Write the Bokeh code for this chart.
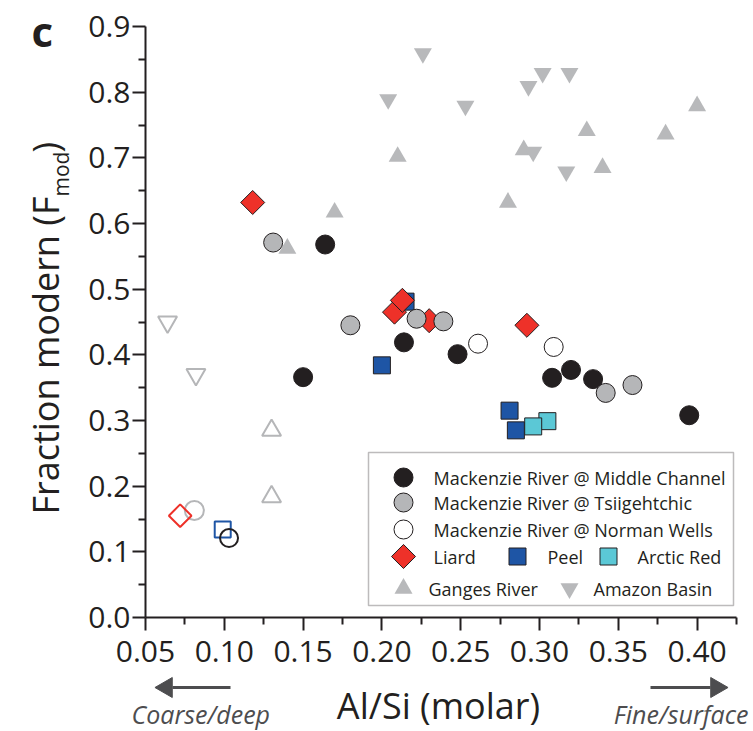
import numpy as np
from bokeh.plotting import figure
from bokeh.models import Range1d, FixedTicker, Label, BoxAnnotation, LinearAxis
from bokeh.embed import file_html
from bokeh.resources import INLINE

# ---------------- data ----------------
mid_x = [0.164, 0.150, 0.214, 0.248, 0.308, 0.320, 0.334, 0.395]
mid_y = [0.568, 0.366, 0.419, 0.401, 0.365, 0.377, 0.363, 0.308]
mid_open_x = [0.103]
mid_open_y = [0.121]

tsi_x = [0.131, 0.180, 0.222, 0.239, 0.342, 0.359]
tsi_y = [0.571, 0.445, 0.455, 0.451, 0.342, 0.354]
tsi_open_x = [0.081]
tsi_open_y = [0.163]

nw_x = [0.261, 0.309]
nw_y = [0.417, 0.412]

liard_x = [0.118, 0.208, 0.213, 0.230, 0.292]
liard_y = [0.632, 0.465, 0.483, 0.452, 0.445]
liard_open_x = [0.072]
liard_open_y = [0.155]

peel_x = [0.200, 0.215, 0.281, 0.285]
peel_y = [0.384, 0.481, 0.315, 0.285]
peel_open_x = [0.099]
peel_open_y = [0.134]

arctic_x = [0.305, 0.296]
arctic_y = [0.299, 0.291]

ganges_x = [0.140, 0.170, 0.210, 0.280, 0.290, 0.330, 0.340, 0.380, 0.400]
ganges_y = [0.562, 0.617, 0.702, 0.632, 0.712, 0.741, 0.685, 0.736, 0.779]
ganges_open_x = [0.130, 0.130]
ganges_open_y = [0.285, 0.184]

amazon_x = [0.204, 0.226, 0.253, 0.293, 0.296, 0.302, 0.317, 0.319]
amazon_y = [0.789, 0.859, 0.779, 0.809, 0.709, 0.829, 0.679, 0.829]
amazon_open_x = [0.064, 0.082]
amazon_open_y = [0.450, 0.370]

x_ticks = [0.05, 0.10, 0.15, 0.20, 0.25, 0.30, 0.35, 0.40]
x_tick_labels = ["0.05", "0.10", "0.15", "0.20", "0.25", "0.30", "0.35", "0.40"]
y_ticks = [0.0, 0.1, 0.2, 0.3, 0.4, 0.5, 0.6, 0.7, 0.8, 0.9]
y_tick_labels = ["0.0", "0.1", "0.2", "0.3", "0.4", "0.5", "0.6", "0.7", "0.8", "0.9"]

legend_labels = ["Mackenzie River @ Middle Channel", "Mackenzie River @ Tsiigehtchic",
                 "Mackenzie River @ Norman Wells", "Liard", "Peel", "Arctic Red",
                 "Ganges River", "Amazon Basin"]

# ---------------- styles ----------------
BLACK = "#231f20"
GREY = "#b5b6b8"
TRI = "#b8b9bb"
RED = "#ee3129"
BLUE = "#1e55a5"
CYAN = "#5bc8d6"
ARROW = "#4d4d4f"
FONT = "Open Sans"

# canvas = page (Bokeh's template has no body margin); the frame fills the canvas
W, H = 753, 731
AX_L, AX_R, AX_T, AX_B = 145, 736, 26, 617          # where the axes sit (px)
X0, X1, Y0, Y1 = 0.05, 0.425, 0.0, 0.9              # axis extents (data)
SX = (AX_R - AX_L) / (X1 - X0)
SY = (AX_B - AX_T) / (Y1 - Y0)


def dx(cx):
    return X0 + (cx - AX_L) / SX


def dy(cy):
    return Y0 + (AX_B - cy) / SY


p = figure(width=W, height=H, output_backend="svg", toolbar_location=None,
           title=None, x_axis_type=None, y_axis_type=None,
           x_range=Range1d(dx(0), dx(W)), y_range=Range1d(dy(H), dy(0)))
p.min_border = 0
p.outline_line_color = None
p.background_fill_color = "white"
p.border_fill_color = "white"

xaxis = LinearAxis(fixed_location=Y0, bounds=(X0, X1),
                   ticker=FixedTicker(ticks=x_ticks,
                                      minor_ticks=list(np.round(np.arange(0.075, 0.43, 0.05), 3))),
                   major_label_overrides={t: l for t, l in zip(x_ticks, x_tick_labels)},
                   major_label_standoff=10)
yaxis = LinearAxis(fixed_location=X0, bounds=(Y0, Y1),
                   ticker=FixedTicker(ticks=y_ticks,
                                      minor_ticks=list(np.round(np.arange(0.05, 0.9, 0.1), 3))),
                   major_label_overrides={t: l for t, l in zip(y_ticks, y_tick_labels)},
                   major_label_standoff=2)
for ax in (xaxis, yaxis):
    ax.axis_line_width = 2
    ax.axis_line_color = BLACK
    ax.major_tick_line_width = 2
    ax.minor_tick_line_width = 2
    ax.major_tick_line_color = BLACK
    ax.minor_tick_line_color = BLACK
    ax.major_tick_out = 13
    ax.major_tick_in = 0
    ax.minor_tick_out = 7
    ax.minor_tick_in = 0
    ax.major_label_text_font = FONT
    ax.major_label_text_font_size = "30px"
    ax.major_label_text_color = BLACK
p.add_layout(xaxis, "below")
p.add_layout(yaxis, "left")

# ---------------- data markers ----------------
D = np.pi / 4
# open (unfilled) markers
p.scatter(amazon_open_x, amazon_open_y, marker="inverted_triangle", size=19,
          fill_color=None, line_color=GREY, line_width=2)
p.scatter(ganges_open_x, ganges_open_y, marker="triangle", size=19,
          fill_color=None, line_color=GREY, line_width=2)
p.scatter(tsi_open_x, tsi_open_y, marker="circle", size=19,
          fill_color=None, line_color=GREY, line_width=2)
p.scatter(liard_open_x, liard_open_y, marker="square", angle=D, size=16,
          fill_color=None, line_color=RED, line_width=2)
p.scatter(peel_open_x, peel_open_y, marker="square", size=16,
          fill_color=None, line_color=BLUE, line_width=2)
p.scatter(mid_open_x, mid_open_y, marker="circle", size=18,
          fill_color=None, line_color=BLACK, line_width=2)

# filled markers
p.scatter(ganges_x, ganges_y, marker="triangle", size=18, fill_color=TRI, line_color=None)
p.scatter(amazon_x, amazon_y, marker="inverted_triangle", size=18, fill_color=TRI, line_color=None)
p.scatter(peel_x, peel_y, marker="square", size=17, fill_color=BLUE, line_color=BLACK, line_width=1)
p.scatter(arctic_x, arctic_y, marker="square", size=17, fill_color=CYAN, line_color=BLACK, line_width=1)
p.scatter(liard_x, liard_y, marker="square", angle=D, size=17, fill_color=RED,
          line_color=BLACK, line_width=1)
p.scatter(mid_x, mid_y, marker="circle", size=19, fill_color=BLACK, line_color=BLACK)
p.scatter(tsi_x, tsi_y, marker="circle", size=19, fill_color=GREY, line_color=BLACK, line_width=1)
p.scatter(nw_x, nw_y, marker="circle", size=19, fill_color="white", line_color=BLACK, line_width=1)

# ---------------- legend (drawn by hand) ----------------
p.add_layout(BoxAnnotation(left=dx(368), right=dx(733), top=dy(452), bottom=dy(605),
                           fill_color=None, line_color=BLACK, line_width=1.5))
rows = [477, 502, 529, 556, 588]
leg_items = [
    # (marker, fill, line, angle, size, marker_x, row, text_x, label)
    ("circle", BLACK, BLACK, 0, 19, 403, 0, 433, legend_labels[0]),
    ("circle", GREY, BLACK, 0, 19, 403, 1, 433, legend_labels[1]),
    ("circle", "white", BLACK, 0, 19, 403, 2, 433, legend_labels[2]),
    ("square", RED, BLACK, D, 17, 403, 3, 433, legend_labels[3]),
    ("square", BLUE, BLACK, 0, 17, 517, 3, 547, legend_labels[4]),
    ("square", CYAN, BLACK, 0, 17, 608, 3, 637, legend_labels[5]),
    ("triangle", TRI, None, 0, 18, 403, 4, 428, legend_labels[6]),
    ("inverted_triangle", TRI, None, 0, 18, 569, 4, 593, legend_labels[7]),
]
for mk, fc, lc, ang, sz, mx, r, tx, lab in leg_items:
    p.scatter([dx(mx)], [dy(rows[r])], marker=mk, size=sz, angle=ang,
              fill_color=fc, line_color=lc, line_width=1)
    p.add_layout(Label(x=dx(tx), y=dy(rows[r]), text=lab, text_font=FONT,
                       text_font_size="18px", text_color=BLACK,
                       text_baseline="middle", text_align="left"))

# ---------------- texts around the axes (anchored at their middles) ----------------
p.add_layout(Label(x=dx(31), y=dy(30), text="c", text_font=FONT, text_font_style="bold",
                   text_font_size="42px", text_color=BLACK,
                   text_align="left", text_baseline="middle"))
# y axis label with subscript
p.add_layout(Label(x=dx(45), y=dy(196), text="Fraction modern (F", angle=np.pi / 2,
                   text_font=FONT, text_font_size="36px", text_color=BLACK,
                   text_align="right", text_baseline="middle"))
p.add_layout(Label(x=dx(60), y=dy(196), text="mod", angle=np.pi / 2,
                   text_font=FONT, text_font_size="21px", text_color=BLACK,
                   text_align="left", text_baseline="middle"))
p.add_layout(Label(x=dx(45), y=dy(152), text=")", angle=np.pi / 2,
                   text_font=FONT, text_font_size="36px", text_color=BLACK,
                   text_align="left", text_baseline="middle"))
# x axis label and direction hints
p.add_layout(Label(x=dx(438), y=dy(705), text="Al/Si (molar)", text_font=FONT,
                   text_font_size="36px", text_color=BLACK, text_align="center",
                   text_baseline="middle"))
p.add_layout(Label(x=dx(131), y=dy(713), text="Coarse/deep", text_font=FONT,
                   text_font_style="italic", text_font_size="25px", text_color=ARROW,
                   text_align="left", text_baseline="middle"))
p.add_layout(Label(x=dx(748), y=dy(713), text="Fine/surface", text_font=FONT,
                   text_font_style="italic", text_font_size="25px", text_color=ARROW,
                   text_align="right", text_baseline="middle"))
# direction arrows: shaft + triangular head
ay = dy(687)
p.segment(x0=[dx(230), dx(650)], y0=[ay, ay], x1=[dx(172), dx(710)], y1=[ay, ay],
          line_color=ARROW, line_width=3)
p.scatter(x=[dx(166), dx(716)], y=[ay, ay], marker="triangle", size=20,
          angle=[np.pi / 2, -np.pi / 2], fill_color=ARROW, line_color=ARROW, line_width=1)

open("out.html", "w").write(file_html(p, INLINE))
